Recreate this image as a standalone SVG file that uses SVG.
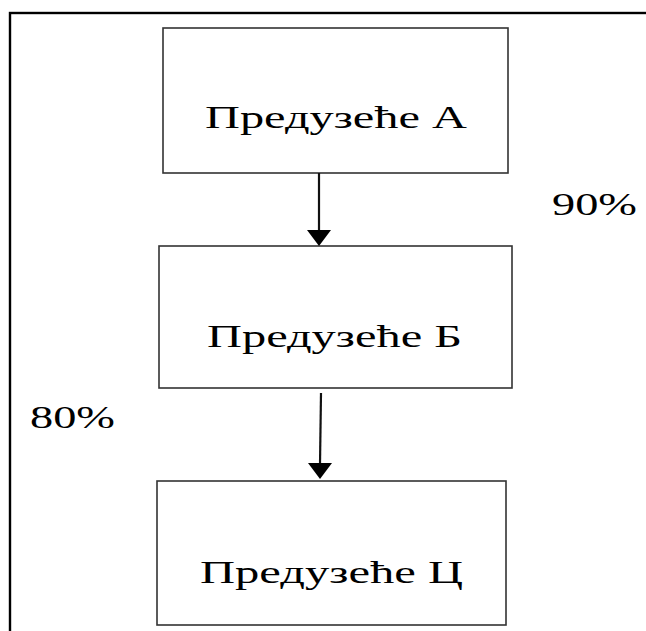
<svg xmlns="http://www.w3.org/2000/svg" width="646" height="631" viewBox="0 0 646 631">
<style>
.box{fill:#fff;stroke:#333;stroke-width:1.6}
.lbl{font-family:"Liberation Serif","Times New Roman",serif;font-size:32px;fill:#000}
.conn{stroke:#111;stroke-width:2.2;fill:none}
</style>
<defs>
<marker id="ah" markerUnits="userSpaceOnUse" markerWidth="24" markerHeight="16" refX="12" refY="16" orient="auto-start-reverse" viewBox="0 0 24 16">
<path d="M0,0 L24,0 L12,16 Z" fill="#000" transform="rotate(0)"/>
</marker>
</defs>
<rect x="10" y="13" width="650" height="640" fill="#fff" stroke="#000" stroke-width="2.4"/>
<g id="nodeA">
<rect class="box" x="163" y="28" width="345" height="145"/>
<text class="lbl" x="205" y="128" textLength="262" lengthAdjust="spacingAndGlyphs">Предузеће А</text>
</g>
<g id="nodeB">
<rect class="box" x="159" y="246" width="353" height="142"/>
<text class="lbl" x="207" y="347" textLength="255" lengthAdjust="spacingAndGlyphs">Предузеће Б</text>
</g>
<g id="nodeC">
<rect class="box" x="157" y="481" width="349" height="144"/>
<text class="lbl" x="200" y="583" textLength="263" lengthAdjust="spacingAndGlyphs">Предузеће Ц</text>
</g>
<g id="labels">
<text class="lbl" x="552" y="215" textLength="85" lengthAdjust="spacingAndGlyphs">90%</text>
<text class="lbl" x="30" y="428" textLength="85" lengthAdjust="spacingAndGlyphs">80%</text>
</g>
<g id="connectors">
<path class="conn" d="M319,173 L319,231"/>
<path d="M307,230 L331,230 L319,246 Z" fill="#000"/>
<path class="conn" d="M321,393 L320,464"/>
<path d="M308,463 L332,463 L320,479 Z" fill="#000"/>
</g>
</svg>
